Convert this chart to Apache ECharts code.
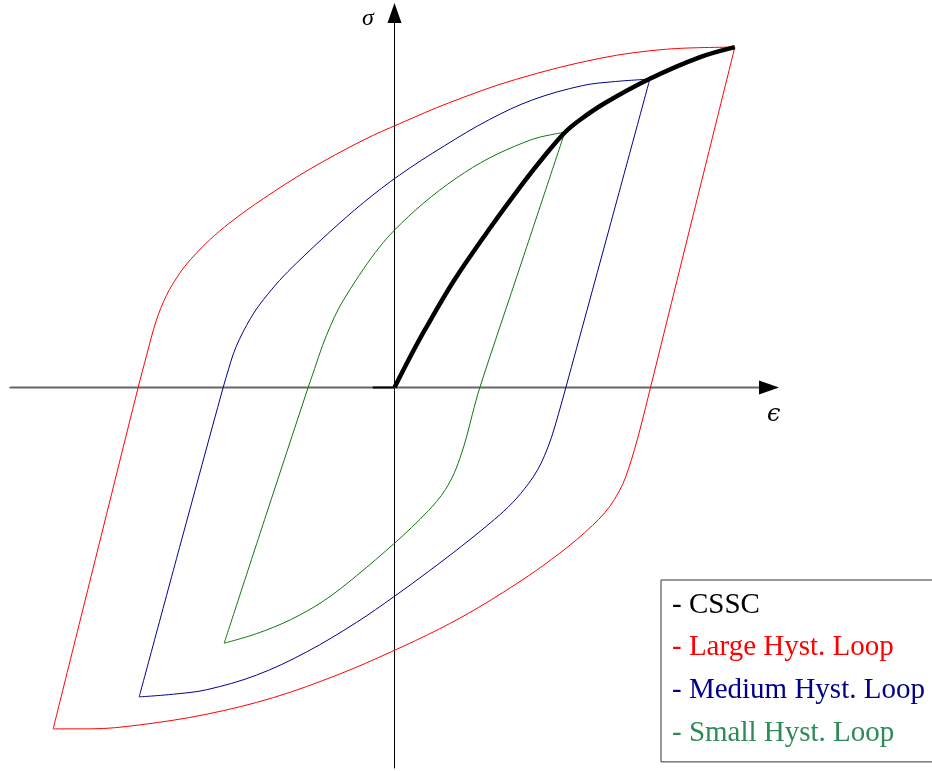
<!DOCTYPE html>
<html>
<head>
<meta charset="utf-8">
<script src="https://cdn.jsdelivr.net/npm/echarts@6/dist/echarts.min.js"></script>
<style>
  html, body { margin: 0; padding: 0; background: #fff; }
  #chart { width: 932px; height: 771px; }
</style>
</head>
<body>
<div id="chart"></div>
<script>
// Normalised strain / stress: the CSSC end point sits at (1, 1).

// Cyclic stress-strain curve
const cssc = [
  [0, 0], [0.044, 0.086], [0.088, 0.167], [0.176, 0.316], [0.279, 0.466],
  [0.382, 0.606], [0.441, 0.681], [0.501, 0.750], [0.544, 0.786],
  [0.618, 0.836], [0.751, 0.908], [0.897, 0.971], [1.001, 1.001]
];

// Large loop: loading branch (bottom tip -> top tip) and unloading branch
const largeUp = [
  [-1.004, -1.004], [-0.879, -0.502], [-0.754, 0], [-0.729, 0.095],
  [-0.709, 0.170], [-0.694, 0.216], [-0.679, 0.253], [-0.662, 0.288],
  [-0.641, 0.322], [-0.618, 0.355], [-0.582, 0.396], [-0.544, 0.434],
  [-0.485, 0.484], [-0.385, 0.556], [-0.253, 0.640], [-0.091, 0.728],
  [0.015, 0.776], [0.162, 0.838], [0.356, 0.906], [0.603, 0.968],
  [0.800, 0.995], [1.001, 1.001]
];
const largeDown = [
  [1.001, 1.001], [0.877, 0.501], [0.753, 0], [0.724, -0.116],
  [0.706, -0.182], [0.688, -0.240], [0.671, -0.285], [0.647, -0.329],
  [0.618, -0.369], [0.582, -0.406], [0.535, -0.448], [0.485, -0.488],
  [0.394, -0.554], [0.247, -0.647], [0.132, -0.710], [-0.009, -0.777],
  [-0.162, -0.843], [-0.356, -0.912], [-0.553, -0.961], [-0.747, -0.992],
  [-0.894, -1.004], [-1.004, -1.004]
];

// Medium loop
const mediumUp = [
  [-0.751, -0.910], [-0.628, -0.455], [-0.504, 0], [-0.488, 0.054],
  [-0.474, 0.099], [-0.456, 0.142], [-0.435, 0.183], [-0.412, 0.222],
  [-0.385, 0.259], [-0.338, 0.315], [-0.288, 0.366], [-0.191, 0.457],
  [-0.091, 0.544], [0.015, 0.625], [0.147, 0.711], [0.279, 0.788],
  [0.406, 0.846], [0.553, 0.888], [0.650, 0.900], [0.751, 0.907]
];
const mediumDown = [
  [0.751, 0.907], [0.628, 0.454], [0.504, 0], [0.482, -0.079],
  [0.462, -0.146], [0.441, -0.201], [0.421, -0.242], [0.394, -0.283],
  [0.347, -0.339], [0.294, -0.388], [0.197, -0.467], [0.100, -0.541],
  [0, -0.614], [-0.112, -0.691], [-0.259, -0.778], [-0.406, -0.846],
  [-0.553, -0.889], [-0.650, -0.902], [-0.751, -0.910]
];

// Small loop
const smallUp = [
  [-0.501, -0.752], [-0.378, -0.376], [-0.254, 0], [-0.235, 0.055],
  [-0.212, 0.123], [-0.188, 0.182], [-0.165, 0.231], [-0.141, 0.272],
  [-0.091, 0.349], [-0.044, 0.413], [0, 0.463], [0.085, 0.542],
  [0.182, 0.616], [0.279, 0.675], [0.379, 0.720], [0.426, 0.736],
  [0.501, 0.751]
];
const smallDown = [
  [0.501, 0.751], [0.376, 0.375], [0.251, 0], [0.229, -0.079],
  [0.212, -0.145], [0.197, -0.194], [0.176, -0.251], [0.150, -0.300],
  [0.124, -0.335], [0.100, -0.362], [0.050, -0.412], [0, -0.458],
  [-0.112, -0.554], [-0.209, -0.628], [-0.306, -0.683], [-0.406, -0.724],
  [-0.501, -0.752]
];

const legendNames = ['CSSC', 'Large Hyst. Loop', 'Medium Hyst. Loop', 'Small Hyst. Loop'];
const legendColors = ['#000000', '#ff0000', '#00008b', '#2e8b57'];
const lineColors = { large: '#ff0000', medium: '#00008b', small: '#117411', cssc: '#000000' };

// Axis extents (normalised units)
const X_MIN = -1.1309, X_MAX = 1.1015;
const Y_MIN = -1.1191, Y_MAX = 1.1015;
const xAxisShaft = [[X_MIN, 0], [1.072, 0]];
const originStub = [[-0.064, 0], [0, 0]];

const chart = echarts.init(document.getElementById('chart'), null, { renderer: 'canvas' });

function branch(name, data, color) {
  return {
    name, type: 'line', data, smooth: 0.35, showSymbol: false, symbol: 'none',
    lineStyle: { color, width: 1 }, itemStyle: { color }, silent: true, z: 3
  };
}

chart.setOption({
  animation: false,
  grid: { left: 10, right: 163, top: 13, bottom: 3 },
  xAxis: {
    type: 'value', min: X_MIN, max: X_MAX,
    axisLine: { onZero: true, symbol: ['none', 'triangle'], symbolSize: [14, 20],
      lineStyle: { color: '#000', width: 1 } },
    axisTick: { show: false }, axisLabel: { show: false }, splitLine: { show: false }
  },
  yAxis: {
    type: 'value', min: Y_MIN, max: Y_MAX,
    axisLine: { onZero: true, symbol: ['none', 'triangle'], symbolSize: [14, 20],
      lineStyle: { color: '#000', width: 1 } },
    axisTick: { show: false }, axisLabel: { show: false }, splitLine: { show: false }
  },
  legend: {
    data: legendNames.map((n, i) => ({ name: n, textStyle: { color: legendColors[i] } })),
    orient: 'vertical', left: 661, top: 580,
    icon: 'none', itemWidth: 0, itemHeight: 30, itemGap: 13.3,
    formatter: '- {name}',
    padding: [10, 40, 14, 6],
    borderColor: '#333', borderWidth: 1, borderRadius: 0, backgroundColor: '#fff',
    textStyle: { fontFamily: 'Liberation Serif', fontSize: 29 },
    selectedMode: false
  },
  graphic: [
    { type: 'text', left: 362, top: 7,
      style: { text: 'σ', font: 'italic 24px "Liberation Serif"', fill: '#000' } },
    { type: 'text', left: 767, top: 403,
      style: { text: 'ϵ', font: 'italic 24px "DejaVu Serif"', fill: '#000' } }
  ],
  series: [
    { name: 'axis-shaft', type: 'line', data: xAxisShaft, symbol: 'none', silent: true,
      lineStyle: { color: '#666', width: 2 }, z: 1 },
    { name: 'origin-stub', type: 'line', data: originStub, symbol: 'none', silent: true,
      lineStyle: { color: '#000', width: 2 }, z: 1 },
    branch('Large Hyst. Loop', largeUp, lineColors.large),
    branch('Large Hyst. Loop', largeDown, lineColors.large),
    branch('Medium Hyst. Loop', mediumUp, lineColors.medium),
    branch('Medium Hyst. Loop', mediumDown, lineColors.medium),
    branch('Small Hyst. Loop', smallUp, lineColors.small),
    branch('Small Hyst. Loop', smallDown, lineColors.small),
    { name: 'CSSC', type: 'line', data: cssc, smooth: 0.35, symbol: 'none', silent: true,
      lineStyle: { color: lineColors.cssc, width: 4.5 }, itemStyle: { color: '#000' }, z: 5 }
  ]
});
</script>
</body>
</html>
